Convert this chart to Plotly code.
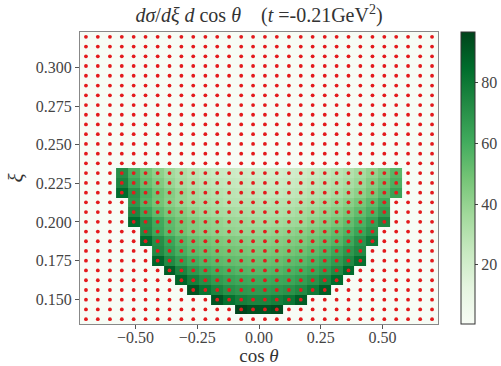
import plotly.graph_objects as go

# grid of cos(theta) bin centres
cos_theta = [-0.700, -0.652, -0.603, -0.555, -0.507, -0.459, -0.410, -0.362, -0.314, -0.266,
             -0.217, -0.169, -0.121, -0.072, -0.024, 0.024, 0.072, 0.121, 0.169, 0.217,
             0.266, 0.314, 0.362, 0.410, 0.459, 0.507, 0.555, 0.603, 0.652, 0.700]
# grid of xi bin centres
xi = [0.1370, 0.1433, 0.1496, 0.1559, 0.1622, 0.1686, 0.1749, 0.1812, 0.1875, 0.1938,
      0.2001, 0.2064, 0.2127, 0.2190, 0.2253, 0.2317, 0.2380, 0.2443, 0.2506, 0.2569,
      0.2632, 0.2695, 0.2758, 0.2821, 0.2884, 0.2948, 0.3011, 0.3074, 0.3137, 0.3200]

# filled rows: xi row index, first cos(theta) column index, values
filled_rows = [1, 2, 3, 4, 5, 6, 7, 8, 9, 10, 11, 12, 13, 14, 15]
first_cols = [13, 11, 9, 8, 7, 6, 6, 5, 5, 4, 4, 4, 3, 3, 3]

row01 = [96.5, 93, 92, 94]
row02 = [92, 83, 77.5, 75.5, 75.5, 77.5, 81, 89]
row03 = [92, 82, 75.5, 70.5, 68, 67, 67, 68, 70, 73.5, 79.5, 89]
row04 = [87, 77.5, 71.5, 67, 64, 62, 61, 61, 62, 63, 66, 70, 75.5, 85]
row05 = [89, 75.5, 68, 63, 60, 58, 56, 55, 55, 56, 58, 60, 63, 67, 73.5, 85]
row06 = [87, 73.5, 66, 60, 56, 54, 52.5, 51.5, 50.5, 50.5, 51.5, 53.5, 55, 58, 62, 67, 73.5, 83]
row07 = [73.5, 66, 59, 54, 51.5, 49.5, 48.5, 47.5, 46.5, 46.5, 47.5, 48.5, 50.5, 53.5, 57, 62, 68, 73.5]
row08 = [85, 71.5, 63, 56, 51.5, 48.5, 46.5, 45, 44, 43, 43, 44, 45, 46.5, 49.5, 52.5, 56, 62, 70, 79.5]
row09 = [72.5, 62, 54.5, 49.5, 45.5, 43, 41, 40, 39, 39, 39, 40, 41, 43, 45.5, 48.5, 52.5, 57, 63, 70]
row10 = [85, 71.5, 61, 53.5, 48.5, 45, 42, 40, 38, 37, 36, 35, 36, 37, 38, 41, 44, 47.5, 52.5, 58, 65, 74.5]
row11 = [74.5, 62, 53.5, 47.5, 44, 40, 37, 35, 34, 33, 32, 32, 32, 33, 35, 37, 40, 43, 47.5, 52.5, 58, 66]
row12 = [68, 56, 48.5, 43, 39, 36, 34, 32, 30, 29.5, 29.5, 28.5, 29.5, 30, 31, 33, 36, 39, 43, 47.5, 53.5, 61]
row13 = [85, 70, 58, 49.5, 44, 39, 35, 32, 30, 28.5, 27.5, 26.5, 25.5, 25.5, 26.5, 27.5, 29.5, 31, 34, 38, 42, 47.5, 54.5, 64]
row14 = [75.5, 62, 51.5, 45, 39, 34, 31, 28.5, 26.5, 25.5, 24.5, 23.5, 22.5, 22.5, 23.5, 24.5, 26.5, 28.5, 31, 34, 38, 44, 50.5, 58]
row15 = [71.5, 58, 48.5, 42, 36, 32, 28.5, 25.5, 23.5, 22.5, 21.5, 20.5, 19.5, 19.5, 20.5, 21.5, 23.5, 25.5, 28.5, 31, 35, 40, 46.5, 55]
row_values = [row01, row02, row03, row04, row05, row06, row07, row08, row09, row10,
              row11, row12, row13, row14, row15]

x_ticks = [-0.50, -0.25, 0.00, 0.25, 0.50]
y_ticks = [0.150, 0.175, 0.200, 0.225, 0.250, 0.275, 0.300]
cbar_ticks = [20, 40, 60, 80]

# assemble grid
z = [[None] * len(cos_theta) for _ in xi]
for j, c0, vals in zip(filled_rows, first_cols, row_values):
    for k, v in enumerate(vals):
        z[j][c0 + k] = v

greens = [[0.0, '#f7fcf5'], [0.125, '#e5f5e0'], [0.25, '#c7e9c0'], [0.375, '#a1d99b'],
          [0.5, '#74c476'], [0.625, '#41ab5d'], [0.75, '#238b45'], [0.875, '#006d2c'],
          [1.0, '#00441b']]

FONT = "Liberation Serif"

fig = go.Figure()
fig.add_trace(go.Heatmap(
    x=cos_theta, y=xi, z=z, colorscale=greens, zmin=0.5, zmax=96.7,
    hoverongaps=False,
    colorbar=dict(
        x=1.0642, xanchor='left', xpad=0, ypad=0, y=0.5, yanchor='middle',
        len=1.0, lenmode='fraction', thickness=14, thicknessmode='pixels',
        outlinewidth=1, outlinecolor='#333333',
        tickvals=cbar_ticks, ticks='outside', ticklen=3, tickcolor='#444444',
        tickfont=dict(family=FONT, size=16, color='#444444'),
    ),
))

gx, gy = [], []
for yv in xi:
    for xv in cos_theta:
        gx.append(xv)
        gy.append(yv)
fig.add_trace(go.Scatter(x=gx, y=gy, mode='markers',
                         marker=dict(color='#e31a1c', size=3.8, line=dict(width=0)),
                         showlegend=False, hoverinfo='skip'))

fig.update_layout(
    width=501, height=366,
    margin=dict(l=80, r=63, t=32, b=42, autoexpand=False),
    paper_bgcolor='white', plot_bgcolor='#f7fcf5',
    showlegend=False,
    title=dict(
        text="<i>dσ</i>/<i>dξ</i> <i>d</i> cos <i>θ</i>&nbsp;&nbsp;&nbsp;&nbsp;(<i>t</i> =-0.21GeV<sup>2</sup>)",
        x=0.5, xref='paper', xanchor='center', y=1 - 15 / 366, yref='container', yanchor='middle',
        font=dict(family=FONT, size=20, color='#333333'),
    ),
    xaxis=dict(
        range=[-0.7241, 0.7241], tickvals=x_ticks, tickformat='.2f', automargin=False,
        ticks='outside', ticklen=4, tickcolor='#555555', ticklabelstandoff=-5,
        showline=True, mirror=True, linecolor='#888888', linewidth=1,
        showgrid=False, zeroline=False,
        tickfont=dict(family=FONT, size=16, color='#444444'),
        title=dict(text='cos <i>θ</i>', font=dict(family=FONT, size=19, color='#333333'), standoff=2),
    ),
    yaxis=dict(
        range=[0.13385, 0.32315], tickvals=y_ticks, tickformat='.3f', automargin=False,
        ticks='outside', ticklen=4, tickcolor='#555555',
        showline=True, mirror=True, linecolor='#888888', linewidth=1,
        showgrid=False, zeroline=False,
        tickfont=dict(family=FONT, size=16, color='#444444'),
        title=dict(text='<i>ξ</i>', font=dict(family=FONT, size=21, color='#333333'), standoff=6),
    ),
)

fig.write_html("out.html", config={'displayModeBar': False},
               post_script="document.body.style.margin='0';document.body.style.overflow='hidden';")
